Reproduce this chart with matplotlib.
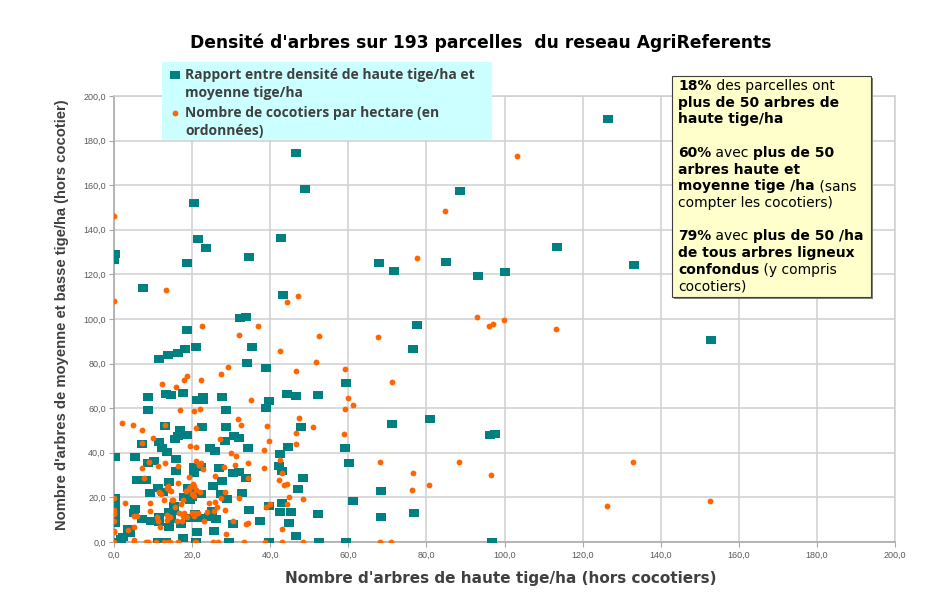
import matplotlib
matplotlib.use("Agg")
import matplotlib.pyplot as plt
from matplotlib.patches import Rectangle
from matplotlib.lines import Line2D
from matplotlib.text import Annotation

# --- data ---
# teal squares: haute tige/ha (x) vs moyenne + basse tige/ha (y)
tige_x = [126.5, 46.5, 48.8, 88.6, 20.6, 113.5, 21.4, 23.5, 18.6, 34.5, 42.7, 0.0, 0.2, 7.3, 43.2,
          32.2, 33.7, 18.6, 67.8, 71.7, 84.9, 93.1, 100.1, 133.2, 153.0, 77.7, 76.5, 59.4, 80.9, 71.2,
          96.3, 97.5, 59.1, 60.1, 68.3, 61.3, 76.8, 68.3, 59.4, 96.8,
          35.3, 34.0, 38.8, 27.7, 44.2, 46.5, 52.2, 39.6, 38.8, 28.6, 28.6, 47.8, 20.9, 11.4, 13.9,
          16.5, 18.1, 8.8, 13.2, 14.5, 17.7, 21.3, 22.7, 22.7, 8.6, 13.1, 16.8, 22.6, 18.7, 7.2,
          11.4, 12.2, 13.7, 15.6, 16.5, 24.6, 25.9, 28.5, 30.7, 32.0, 34.4, 42.6, 44.5,
          0.2, 5.5, 8.7, 10.2, 16.0, 15.9, 20.6, 20.6, 22.3, 26.8, 30.6, 32.0, 33.9, 27.6, 42.3,
          42.9, 48.4, 47.2, 43.1, 42.4, 45.3, 52.2, 44.7, 46.7, 39.7, 37.3, 34.5, 32.7, 29.0, 30.6,
          25.5, 21.3, 27.3, 25.3, 25.2, 26.2, 24.2, 22.4, 18.9, 19.8, 19.9, 19.4, 17.8, 15.4, 15.3,
          19.4, 20.7, 21.9, 17.2, 14.2, 14.5, 11.4, 11.4, 14.2, 9.5, 7.2, 5.3, 5.2, 9.3, 12.6,
          14.2, 11.3, 5.8, 8.1, 3.5, 4.0, 2.4, 1.7, 0.2, 0.2, 0.2, 0.2, 0.2, 0.0, 11.3,
          13.3, 17.7, 21.1, 29.4, 39.7, 52.5]
tige_y = [189.7, 174.4, 158.3, 157.4, 152.0, 132.4, 135.9, 131.8, 125.1, 127.8, 136.3, 126.5, 129.0, 113.9, 110.8,
          100.4, 100.9, 95.1, 125.2, 121.7, 125.7, 119.3, 121.1, 124.4, 90.7, 97.3, 86.5, 71.3, 55.2, 52.9,
          48.0, 48.6, 42.2, 35.4, 22.9, 18.4, 13.0, 11.2, 0.0, 0.0,
          87.4, 80.4, 77.9, 65.0, 66.4, 65.5, 65.9, 63.2, 60.2, 59.3, 51.7, 51.7, 87.6, 82.1, 84.0,
          84.6, 86.7, 65.0, 66.4, 65.9, 67.0, 63.8, 64.9, 63.7, 59.2, 52.0, 50.2, 51.7, 48.0, 43.9,
          44.8, 42.3, 40.5, 46.3, 47.7, 42.0, 40.9, 45.3, 47.4, 46.5, 42.2, 39.6, 42.5,
          38.3, 38.3, 35.6, 36.2, 37.2, 31.8, 33.8, 30.8, 33.8, 33.3, 31.1, 31.5, 28.7, 27.5, 34.2,
          32.0, 28.8, 23.8, 17.6, 13.6, 13.6, 12.6, 8.7, 2.7, 16.1, 9.6, 14.5, 22.1, 19.4, 8.2,
          5.1, 4.5, 21.7, 25.1, 13.8, 10.3, 11.3, 21.5, 24.1, 22.3, 20.2, 18.7, 20.0, 16.3, 13.9,
          10.9, 12.6, 10.8, 8.1, 13.6, 10.3, 11.3, 8.8, 6.9, 9.3, 10.3, 14.9, 12.9, 22.1, 22.3,
          27.0, 24.2, 27.8, 27.7, 5.8, 3.9, 2.2, 1.3, 19.9, 16.9, 14.3, 11.3, 8.5, 0.0, 0.0,
          0.0, 1.9, 0.0, 0.0, 0.0, 0.0]

# orange dots: haute tige/ha (x) vs cocotiers/ha (y)
coco_x = [103.3, 84.8, 0.0, 77.6, 13.4, 0.0, 44.4, 47.0, 92.9, 97.1, 96.1, 99.9, 113.2, 22.6, 37.0,
          32.1, 52.5, 67.6, 42.4, 51.8, 29.2, 27.5, 46.5, 59.2, 71.3, 60.0, 61.2, 59.2, 58.8, 68.0,
          88.4, 76.5, 96.5, 80.6, 76.3, 133.0, 126.2, 152.7, 68.0, 70.9,
          35.0, 31.7, 47.5, 32.5, 39.3, 51.0, 18.6, 17.9, 22.4, 12.3, 15.8, 17.0, 20.6, 22.0, 2.0,
          4.8, 7.1, 20.9, 13.0, 9.9, 7.2, 19.4, 21.1, 27.1, 30.0, 31.3, 38.4, 39.6, 42.4, 46.5, 46.6,
          9.0, 11.2, 13.1, 7.1, 16.4, 21.0, 21.7, 22.3, 22.9, 20.6, 28.2, 30.9, 34.3, 34.4, 25.8,
          38.3, 42.9, 43.5, 44.2, 42.2, 44.8, 44.2, 48.3, 43.1, 39.0, 39.9, 34.3, 33.9, 28.4, 28.5,
          30.5, 28.8, 25.8, 26.5, 24.2, 25.5, 23.0, 23.9, 21.9, 19.1, 19.9, 18.5, 21.0, 20.5, 16.5,
          14.7, 17.6, 17.2, 15.6, 15.0, 18.0, 16.7, 17.6, 18.8, 20.0, 21.4, 20.5, 20.7, 16.1, 17.3,
          13.7, 14.3, 13.5, 11.1, 11.2, 11.8, 5.8, 5.2, 9.1, 9.1, 2.9, 12.1, 12.8, 13.8, 14.2,
          7.6, 3.6, 5.2, 5.1, 19.2, 11.4, 13.6, 14.9, 19.4, 20.2, 27.4, 32.0, 0.0, 0.0, 0.0,
          0.0, 0.0, 0.0, 0.0, 0.0, 5.1, 8.3, 8.6, 10.7, 12.9, 13.8, 14.4, 16.3, 20.8, 21.1,
          25.3, 26.7, 33.4, 38.7, 43.0, 48.5]
coco_y = [173.0, 148.6, 146.2, 127.2, 112.9, 107.9, 107.6, 110.4, 101.0, 97.9, 96.7, 99.6, 95.4, 97.0, 97.0,
          93.0, 92.4, 91.8, 85.5, 80.6, 78.3, 75.3, 76.5, 77.4, 71.9, 64.7, 61.6, 59.8, 48.3, 35.9,
          35.9, 30.8, 29.9, 25.6, 23.5, 35.7, 16.0, 18.4, 0.0, 0.0,
          63.5, 55.2, 55.5, 52.3, 51.9, 51.4, 74.6, 72.5, 72.5, 70.7, 69.6, 59.2, 58.9, 59.5, 53.2,
          52.6, 50.4, 51.1, 52.6, 46.5, 44.4, 43.0, 42.5, 46.1, 39.8, 38.7, 41.4, 45.2, 36.8, 43.9, 48.7,
          35.7, 34.1, 35.6, 33.0, 34.1, 36.2, 34.5, 35.3, 32.9, 25.2, 33.6, 34.5, 35.6, 28.6, 29.6,
          33.2, 30.9, 25.7, 25.9, 27.7, 20.0, 16.9, 19.3, 5.7, 15.6, 17.0, 8.4, 8.1, 22.6, 14.3,
          9.4, 3.5, 17.8, 15.8, 17.4, 13.9, 9.6, 13.3, 22.4, 23.6, 21.7, 22.9, 23.3, 20.6, 26.3,
          23.0, 18.7, 16.9, 15.7, 18.7, 12.9, 13.1, 11.7, 11.2, 13.1, 13.1, 11.7, 13.1, 9.6, 9.6,
          12.1, 11.0, 9.9, 11.1, 9.3, 6.9, 11.5, 11.5, 13.9, 17.6, 17.5, 21.5, 18.7, 25.2, 23.3,
          28.6, 5.5, 6.9, 0.9, 29.3, 22.6, 24.1, 18.8, 24.8, 26.0, 19.9, 19.7, 19.8, 13.6, 14.3,
          12.6, 9.6, 5.1, 4.4, 0.0, 0.0, 0.0, 0.0, 0.0, 0.0, 0.0, 0.0, 0.0, 0.0, 0.0,
          0.0, 0.0, 0.0, 0.0, 0.0, 0.0]

ticks = [0, 20, 40, 60, 80, 100, 120, 140, 160, 180, 200]
tick_labels = ["0,0", "20,0", "40,0", "60,0", "80,0", "100,0", "120,0", "140,0", "160,0", "180,0", "200,0"]

TEAL = "#008080"
ORANGE = "#ff6600"
GRID = "#d0d0d0"
W, H = 925, 599

fig = plt.figure(figsize=(W / 100, H / 100), dpi=100)
ax = fig.add_axes([114 / W, 1 - 542 / H, 781 / W, 446 / H])

rect_marker = [(-1, -0.78), (1, -0.78), (1, 0.78), (-1, 0.78)]
ax.plot(tige_x, tige_y, linestyle="none", marker=rect_marker, markersize=6.9,
        color=TEAL, markeredgewidth=0, zorder=3)
ax.plot(coco_x, coco_y, linestyle="none", marker="o", markersize=4.2,
        color=ORANGE, markeredgewidth=0, zorder=4)

ax.set_xlim(0, 200)
ax.set_ylim(0, 200)
ax.set_xticks(ticks)
ax.set_yticks(ticks)
ax.set_xticklabels(tick_labels)
ax.set_yticklabels(tick_labels)
ax.grid(True, color=GRID, linewidth=1.1, zorder=0)
ax.set_axisbelow(True)
for sp in ax.spines.values():
    sp.set_color(GRID)
    sp.set_linewidth(1.1)
ax.spines["left"].set_color("#a6a6a6")
ax.spines["bottom"].set_color("#a6a6a6")
ax.tick_params(axis="both", length=3.5, width=0.8, color="#a6a6a6",
               labelsize=6.5, labelcolor="#595959", pad=2.5)
for lab in ax.get_xticklabels() + ax.get_yticklabels():
    lab.set_family("Liberation Sans")

# titles
fig.text(481 / W, 1 - 43 / H, "Densité d'arbres sur 193 parcelles  du reseau AgriReferents",
         ha="center", va="center", fontsize=12.3, fontweight="bold", family="DejaVu Sans", color="#000000")
fig.text(501 / W, 1 - 578 / H, "Nombre d'arbres de haute tige/ha (hors cocotiers)",
         ha="center", va="center", fontsize=11, fontweight="bold", family="DejaVu Sans", color="#404040")
fig.text(62 / W, 1 - 315 / H, "Nombre d'arbres de moyenne et basse tige/ha (hors cocotier)",
         ha="center", va="center", rotation=90, fontsize=10.6, fontweight="bold",
         family="Liberation Sans", color="#404040")

# legend box (drawn by hand to keep the marker on the first line)
fig.add_artist(Rectangle((162 / W, 1 - 140 / H), 330 / W, 78 / H, transform=fig.transFigure,
                         facecolor="#ccffff", edgecolor="none", zorder=5))
fig.add_artist(Line2D([175 / W], [1 - 75 / H], transform=fig.transFigure, linestyle="none",
                      marker=rect_marker, markersize=6.9, color=TEAL, markeredgewidth=0, zorder=6))
fig.add_artist(Line2D([175 / W], [1 - 113 / H], transform=fig.transFigure, linestyle="none",
                      marker="o", markersize=4.2, color=ORANGE, markeredgewidth=0, zorder=6))
leg_lines = [(75, "Rapport entre densité de haute tige/ha et"), (93, "moyenne tige/ha"),
             (113, "Nombre de cocotiers par hectare (en"), (131, "ordonnées)")]
for yy, txt in leg_lines:
    fig.text(185 / W, 1 - yy / H, txt, ha="left", va="center", fontsize=10, fontweight="bold",
             family="Open Sans", color="#404040", zorder=6)

# yellow note box
fig.add_artist(Rectangle((674 / W, 1 - 299 / H), 199 / W, 221 / H, transform=fig.transFigure,
                         facecolor="#808080", edgecolor="none", zorder=6))
fig.add_artist(Rectangle((672 / W, 1 - 297 / H), 199 / W, 221 / H, transform=fig.transFigure,
                         facecolor="#ffffcc", edgecolor="#404040", linewidth=0.8, zorder=7))

note = [
    [("18%", True), (" des parcelles ont", False)],
    [("plus de 50 arbres de", True)],
    [("haute tige/ha", True)],
    [],
    [("60%", True), (" avec ", False), ("plus de 50", True)],
    [("arbres haute et", True)],
    [("moyenne tige /ha", True), (" (sans", False)],
    [("compter les cocotiers)", False)],
    [],
    [("79%", True), (" avec ", False), ("plus de 50 /ha", True)],
    [("de tous arbres ligneux", True)],
    [("confondus", True), (" (y compris", False)],
    [("cocotiers)", False)],
]
y0 = 86
for i, parts in enumerate(note):
    if not parts:
        continue
    yy = y0 + i * 16.7
    t = fig.text(678 / W, 1 - yy / H, parts[0][0], ha="left", va="center", fontsize=10,
                 fontweight="bold" if parts[0][1] else "normal", family="DejaVu Sans",
                 color="#000000", zorder=8)
    for s, b in parts[1:]:
        t = fig.add_artist(Annotation(s, xy=(1, 0), xycoords=t, ha="left", va="bottom", fontsize=10,
                                      fontweight="bold" if b else "normal", family="DejaVu Sans",
                                      color="#000000", zorder=8))

fig.savefig("out.png", dpi=100, facecolor="white")
